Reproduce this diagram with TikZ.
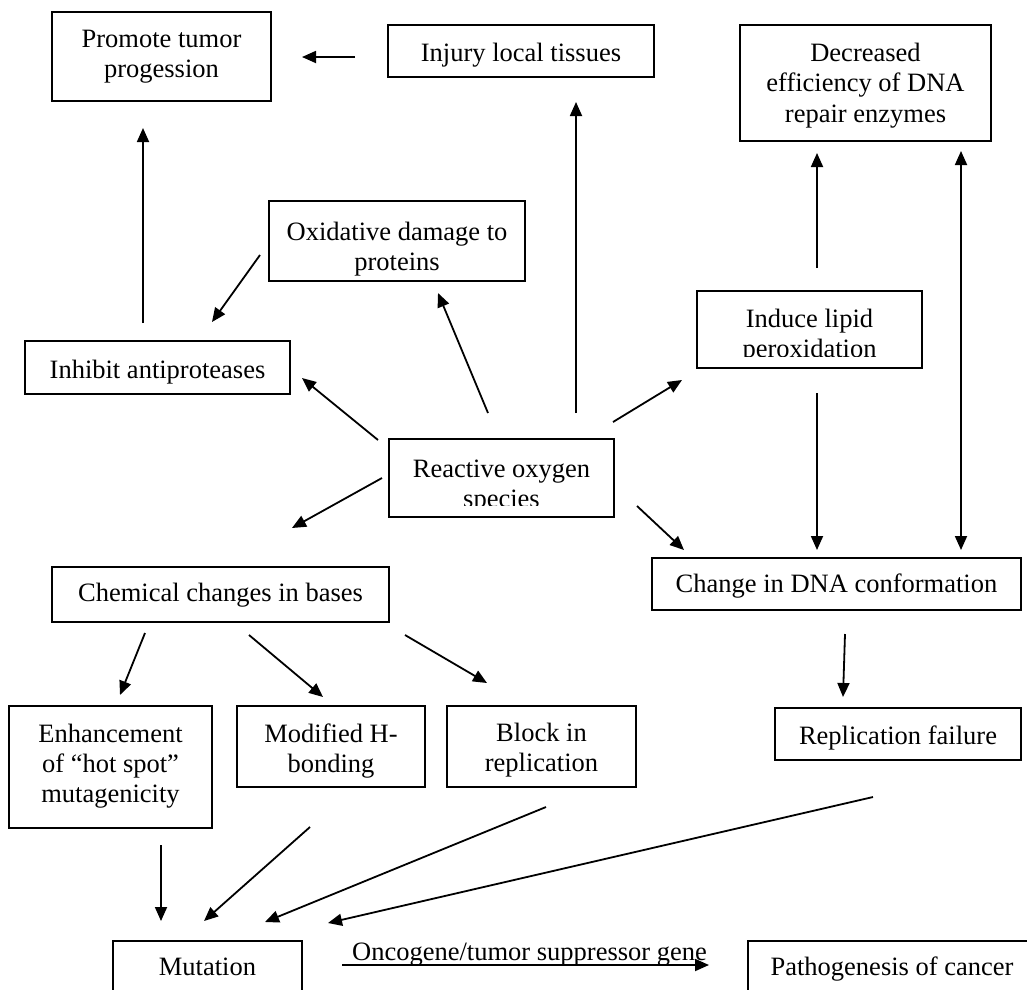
\documentclass[tikz,border=0pt]{standalone}
\usepackage{fontspec}
\setmainfont{Liberation Serif}
\usetikzlibrary{arrows.meta}
\newcommand{\bx}[5]{\node[box, minimum width={(#4-#2)*1pt}, minimum height={(#5-#3)*1pt}] (#1) at ({(#2+#4)/2},{(#3+#5)/2}) {};}
\begin{document}
\begin{tikzpicture}[x=1pt,y=-1pt,
  box/.style={draw, line width=1.8pt, inner sep=0pt, rectangle},
  txt/.style={inner sep=0pt, anchor=base, font=\fontsize{26.5}{31}\selectfont},
  arr/.style={line width=1.8pt, -{Triangle[length=14pt,width=12pt]}},
  darr/.style={line width=1.8pt, {Triangle[length=14pt,width=12pt]}-{Triangle[length=14pt,width=12pt]}}]
\useasboundingbox (0,0) rectangle (1027,989);
\clip (0,0) rectangle (1027,989);
\fill[white] (0,0) rectangle (1027,989);

% boxes
\bx{promote}{52}{12}{271}{101}
\bx{injury}{388}{25}{654}{77}
\bx{decr}{740}{25}{991}{141}
\bx{oxid}{269}{201}{525}{281}
\bx{inhib}{25}{341}{290}{394}
\bx{ros}{389}{439}{614}{517}
\bx{induce}{697}{291}{922}{368}
\bx{chem}{52}{567}{389}{622}
\bx{dna}{652}{558}{1021}{610}
\bx{repl}{775}{708}{1021}{760}
\bx{enh}{9}{706}{212}{828}
\bx{modh}{237}{706}{425}{787}
\bx{block}{447}{706}{636}{787}
\bx{mut}{113}{941}{302}{1010}
\bx{path}{748}{941}{1040}{1010}

% texts
\node[txt] (promoteA) at (161.5,47) {Promote tumor};
\node[txt] (promoteB) at (161.5,77) {progession};
\node[txt] (injuryA) at (521,61) {Injury local tissues};
\node[txt] (decrA) at (865.5,61) {Decreased};
\node[txt] (decrB) at (865.5,91) {efficiency of DNA};
\node[txt] (decrC) at (865.5,122) {repair enzymes};
\node[txt] (oxidA) at (397,240) {Oxidative damage to};
\node[txt] (oxidB) at (397,270) {proteins};
\node[txt] (inhibA) at (157.5,378) {Inhibit antiproteases};
\node[txt] (rosA) at (501.5,477) {Reactive oxygen};
\begin{scope}
\clip (389,439) rectangle (614,505);
\node[txt] (rosB) at (501.5,507) {species};
\end{scope}
\node[txt] (induceA) at (809.5,327) {Induce lipid};
\begin{scope}
\clip (697,291) rectangle (922,356);
\node[txt] (induceB) at (809.5,357) {peroxidation};
\end{scope}
\node[txt] (chemA) at (220.5,601) {Chemical changes in bases};
\node[txt] (dnaA) at (836.5,592) {Change in DNA conformation};
\node[txt] (replA) at (898,744) {Replication failure};
\node[txt] (enhA) at (110.5,742) {Enhancement};
\node[txt] (enhB) at (110.5,772) {of “hot spot”};
\node[txt] (enhC) at (110.5,802) {mutagenicity};
\node[txt] (modhA) at (331,742) {Modified H-};
\node[txt] (modhB) at (331,772) {bonding};
\node[txt] (blockA) at (541.5,741) {Block in};
\node[txt] (blockB) at (541.5,771) {replication};
\node[txt] (mutA) at (207.5,975) {Mutation};
\node[txt] (pathA) at (892,975) {Pathogenesis of cancer};
\node[txt] (oncoL) at (529.5,960) {Oncogene/tumor suppressor gene};

% connector end points
\coordinate (a1s) at (355,57);  \coordinate (a1e) at (302,57);
\coordinate (a2s) at (143,323); \coordinate (a2e) at (143,128);
\coordinate (a3s) at (260,255); \coordinate (a3e) at (212,322);
\coordinate (a4s) at (378,440); \coordinate (a4e) at (302,378);
\coordinate (a5s) at (488,413); \coordinate (a5e) at (438,293);
\coordinate (a6s) at (576,413); \coordinate (a6e) at (576,102);
\coordinate (a7s) at (613,422); \coordinate (a7e) at (682,380);
\coordinate (a8s) at (817,268); \coordinate (a8e) at (817,153);
\coordinate (a9s) at (817,393); \coordinate (a9e) at (817,550);
\coordinate (a10s) at (961,151); \coordinate (a10e) at (961,550);
\coordinate (a11s) at (637,506); \coordinate (a11e) at (684,550);
\coordinate (a12s) at (382,478); \coordinate (a12e) at (292,528);
\coordinate (a13s) at (145,633); \coordinate (a13e) at (120,695);
\coordinate (a14s) at (249,635); \coordinate (a14e) at (323,697);
\coordinate (a15s) at (405,635); \coordinate (a15e) at (487,683);
\coordinate (a16s) at (845,634); \coordinate (a16e) at (843,697);
\coordinate (a17s) at (161,845); \coordinate (a17e) at (161,921);
\coordinate (a18s) at (310,827); \coordinate (a18e) at (204,921);
\coordinate (a19s) at (546,807); \coordinate (a19e) at (265,922);
\coordinate (a20s) at (873,797); \coordinate (a20e) at (328,923);
\coordinate (a21s) at (342,965); \coordinate (a21e) at (709,965);

\draw[arr] (a1s) -- (a1e);
\draw[arr] (a2s) -- (a2e);
\draw[arr] (a3s) -- (a3e);
\draw[arr] (a4s) -- (a4e);
\draw[arr] (a5s) -- (a5e);
\draw[arr] (a6s) -- (a6e);
\draw[arr] (a7s) -- (a7e);
\draw[arr] (a8s) -- (a8e);
\draw[arr] (a9s) -- (a9e);
\draw[darr] (a10s) -- (a10e);
\draw[arr] (a11s) -- (a11e);
\draw[arr] (a12s) -- (a12e);
\draw[arr] (a13s) -- (a13e);
\draw[arr] (a14s) -- (a14e);
\draw[arr] (a15s) -- (a15e);
\draw[arr] (a16s) -- (a16e);
\draw[arr] (a17s) -- (a17e);
\draw[arr] (a18s) -- (a18e);
\draw[arr] (a19s) -- (a19e);
\draw[arr] (a20s) -- (a20e);
\draw[arr] (a21s) -- (a21e);
\end{tikzpicture}
\end{document}
